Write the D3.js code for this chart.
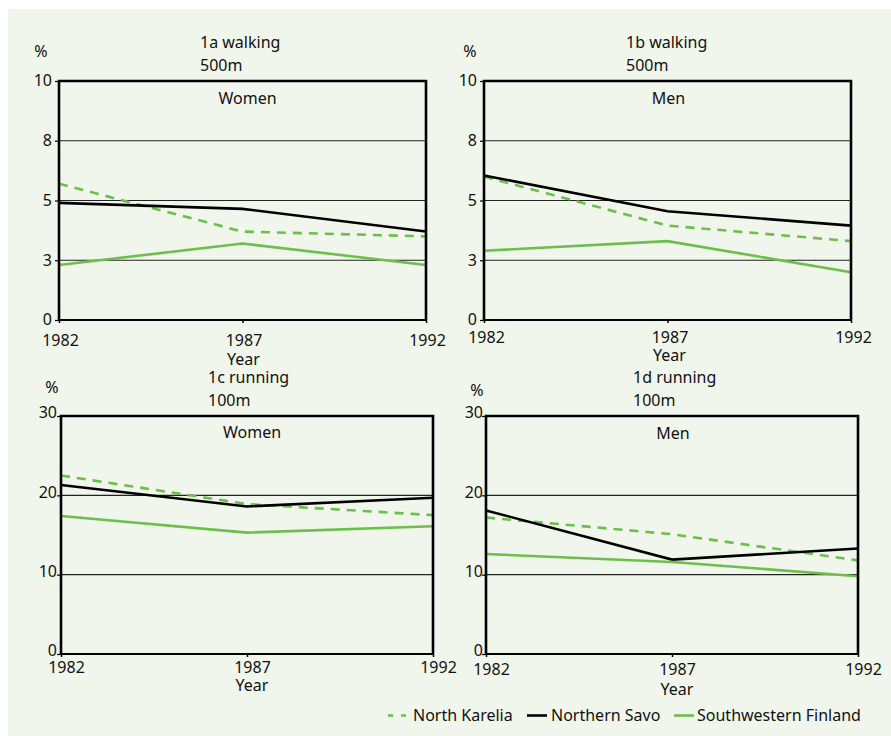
<!DOCTYPE html>
<html><head><meta charset="utf-8">
<script src="https://cdn.jsdelivr.net/npm/d3@7"></script>
<style>
html,body{margin:0;padding:0;background:#fff;}
svg{display:block;font-family:"Noto Sans",sans-serif;}
</style></head>
<body>
<svg id="chart" width="891" height="736"></svg>
<script>
// ---- data ----
const years = [1982, 1987, 1992];
const seriesNames = ["North Karelia", "Northern Savo", "Southwestern Finland"];
const walkingTickValues = [0, 2.5, 5, 7.5, 10];
const walkingTickLabels = ["0", "3", "5", "8", "10"];
const runningTickValues = [0, 10, 20, 30];
const runningTickLabels = ["0", "10", "20", "30"];

// 1a walking 500m, Women
const walkWomenNK = [5.7, 3.7, 3.5];
const walkWomenNS = [4.9, 4.65, 3.7];
const walkWomenSWF = [2.3, 3.2, 2.3];
// 1b walking 500m, Men
const walkMenNK = [6.0, 3.95, 3.3];
const walkMenNS = [6.05, 4.55, 3.95];
const walkMenSWF = [2.9, 3.3, 2.0];
// 1c running 100m, Women
const runWomenNK = [22.5, 18.9, 17.5];
const runWomenNS = [21.3, 18.6, 19.7];
const runWomenSWF = [17.4, 15.3, 16.1];
// 1d running 100m, Men
const runMenNK = [17.2, 15.1, 11.8];
const runMenNS = [18.1, 11.9, 13.3];
const runMenSWF = [12.6, 11.6, 9.8];

// ---- styles ----
const GREEN = "#6cbf4a";
const styles = [
  {color: GREEN, dash: "9,7"},
  {color: "#000", dash: null},
  {color: GREEN, dash: null}
];

const panels = [
  {t1: "1a walking", t2: "500m", sub: "Women", max: 10, tv: walkingTickValues, tl: walkingTickLabels, ydy: "0.3em",
   data: [walkWomenNK, walkWomenNS, walkWomenSWF], x0: 59, x1: 426, y0: 81, y1: 320, tdx: 141, lblY: 346, yearY: 365, pctX: 41, pctY: 57, t1Y: 48, t2Y: 71, subY: 104, xoff: 1, ylx: 52},
  {t1: "1b walking", t2: "500m", sub: "Men", max: 10, tv: walkingTickValues, tl: walkingTickLabels, ydy: "0.3em",
   data: [walkMenNK, walkMenNS, walkMenSWF], x0: 484, x1: 851, y0: 81, y1: 320, tdx: 142, lblY: 343, yearY: 361, pctX: 470, pctY: 57, t1Y: 48, t2Y: 71, subY: 104, xoff: 2, ylx: 477},
  {t1: "1c running", t2: "100m", sub: "Women", max: 30, tv: runningTickValues, tl: runningTickLabels, ydy: "0.12em",
   data: [runWomenNK, runWomenNS, runWomenSWF], x0: 61, x1: 433, y0: 416, y1: 654, tdx: 147, lblY: 673, yearY: 691, pctX: 52, pctY: 393, t1Y: 383, t2Y: 406, subY: 438, xoff: 5, ylx: 57},
  {t1: "1d running", t2: "100m", sub: "Men", max: 30, tv: runningTickValues, tl: runningTickLabels, ydy: "0.12em",
   data: [runMenNK, runMenNS, runMenSWF], x0: 486, x1: 858, y0: 416, y1: 654, tdx: 147, lblY: 675, yearY: 695, pctX: 477, pctY: 396, t1Y: 383, t2Y: 406, subY: 439, xoff: 5, ylx: 483}
];

const svg = d3.select("#chart");
svg.append("rect").attr("x", 8).attr("y", 9).attr("width", 883).attr("height", 727).attr("fill", "#f1f6ec");

panels.forEach(p => {
  const g = svg.append("g");
  const x = d3.scaleLinear().domain([years[0], years[years.length - 1]]).range([p.x0, p.x1]);
  const y = d3.scaleLinear().domain([0, p.max]).range([p.y1, p.y0]);

  // gridlines
  g.selectAll(".grid").data(p.tv.filter(v => v > 0 && v < p.max)).join("line")
    .attr("x1", p.x0).attr("x2", p.x1).attr("y1", d => y(d)).attr("y2", d => y(d))
    .attr("stroke", "#222").attr("stroke-width", 1.1);

  // y axis ticks & labels
  const yAxis = d3.axisLeft(y).tickValues(p.tv).tickFormat((d, i) => p.tl[i]).tickSize(4).tickPadding(2);
  const ya = g.append("g").attr("transform", `translate(${p.x0},0)`).call(yAxis);
  ya.select(".domain").remove();
  ya.selectAll("line").attr("stroke", "#000").attr("stroke-width", 1.2);
  ya.selectAll("text").attr("font-size", 16).attr("fill", "#111").attr("font-family", "Noto Sans")
    .attr("x", p.ylx - p.x0).attr("dy", p.ydy);

  // x axis ticks
  const xAxis = d3.axisBottom(x).tickValues(years).tickFormat(d3.format("d")).tickSize(3).tickPadding(0);
  const xa = g.append("g").attr("transform", `translate(0,${p.y1})`).call(xAxis);
  xa.select(".domain").remove();
  xa.selectAll("line").attr("stroke", "#000").attr("stroke-width", 1.5);
  xa.selectAll("text").attr("font-size", 16).attr("fill", "#111").attr("font-family", "Noto Sans")
    .attr("dy", null).attr("y", p.lblY - p.y1).attr("x", p.xoff);

  // series lines
  const line = d3.line().x((d, i) => x(years[i])).y(d => y(d));
  p.data.forEach((s, i) => {
    g.append("path").datum(s).attr("d", line).attr("fill", "none")
      .attr("stroke", styles[i].color).attr("stroke-width", 2.6)
      .attr("stroke-dasharray", styles[i].dash);
  });

  // frame
  g.append("path")
    .attr("d", `M${p.x0},${p.y1}V${p.y0}H${p.x1}V${p.y1}`)
    .attr("fill", "none").attr("stroke", "#000").attr("stroke-width", 2.6);
  g.append("line").attr("x1", p.x0).attr("x2", p.x1).attr("y1", p.y1).attr("y2", p.y1)
    .attr("stroke", "#000").attr("stroke-width", 2);

  // texts
  const txt = (tx, ty, s, anchor) => g.append("text").attr("x", tx).attr("y", ty).attr("font-size", 16)
    .attr("fill", "#111").attr("text-anchor", anchor || "start").text(s);
  txt(p.pctX, p.pctY, "%", "middle");
  txt(p.x0 + p.tdx, p.t1Y, p.t1);
  txt(p.x0 + p.tdx, p.t2Y, p.t2);
  txt((p.x0 + p.x1) / 2 + (p.sub === "Women" ? 5 : 1), p.subY, p.sub, "middle");
  txt(x(years[1]) + p.xoff, p.yearY, "Year", "middle");
});

// legend
const legendItems = [
  {x1: 388, x2: 410, tx: 413},
  {x1: 527, x2: 547, tx: 551},
  {x1: 674, x2: 694, tx: 697}
];
const lg = svg.append("g");
legendItems.forEach((it, i) => {
  lg.append("line").attr("x1", it.x1).attr("x2", it.x2).attr("y1", 715.5).attr("y2", 715.5)
    .attr("stroke", styles[i].color).attr("stroke-width", 2.6)
    .attr("stroke-dasharray", styles[i].dash ? "5,8" : null);
  lg.append("text").attr("x", it.tx).attr("y", 721).attr("font-size", 16).attr("fill", "#111")
    .text(seriesNames[i]);
});
</script>
</body></html>
